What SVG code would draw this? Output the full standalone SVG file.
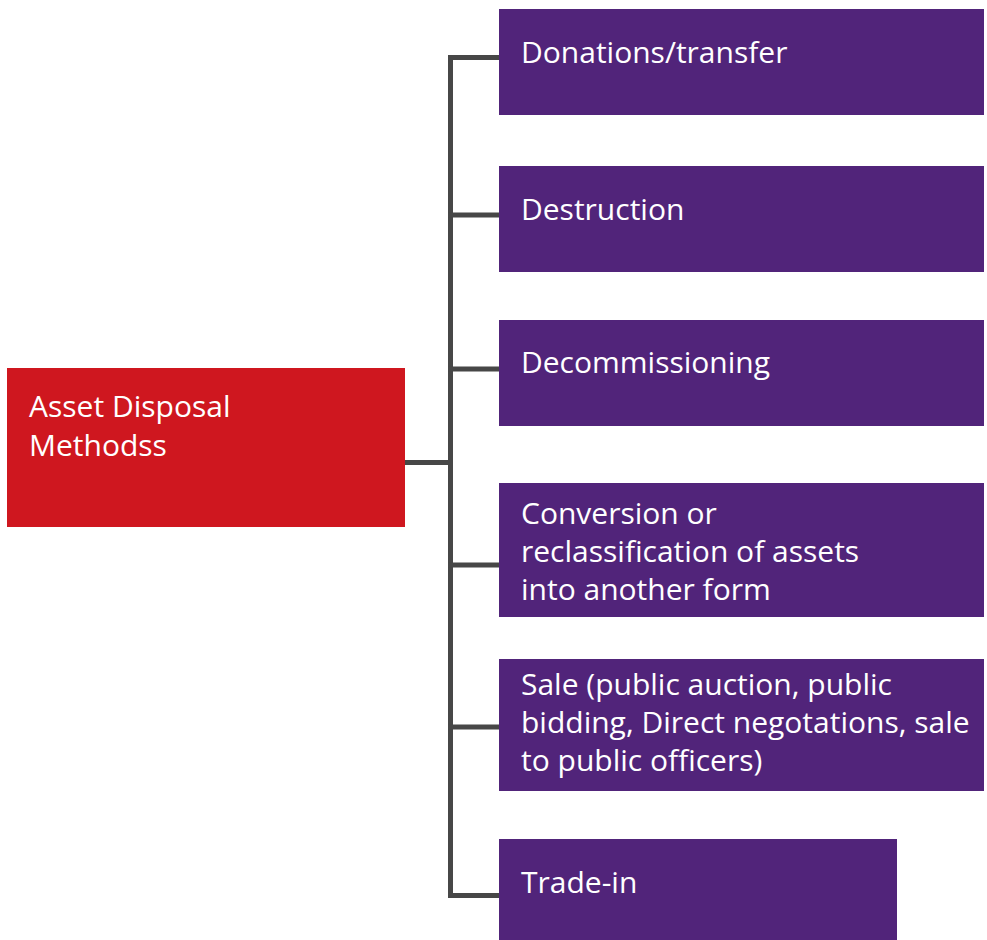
<svg xmlns="http://www.w3.org/2000/svg" width="987" height="940" viewBox="0 0 987 940">
<style>
.root{fill:#CF171F}
.leaf{fill:#51247A}
.t{font-family:"Open Sans","Noto Sans","DejaVu Sans",sans-serif;font-size:30px;fill:#FFFFFF}
.c{fill:none;stroke:#474747;stroke-width:5}
</style>
<rect width="987" height="940" fill="#FFFFFF"/>
<g id="connectors">
<path class="c" d="M405 462.5 H450.5"/>
<path class="c" d="M450.5 57.5 V895.5"/>
<path class="c" d="M448 57.5 H499"/>
<path class="c" d="M448 215 H499"/>
<path class="c" d="M448 369 H499"/>
<path class="c" d="M448 565 H499"/>
<path class="c" d="M448 727 H499"/>
<path class="c" d="M448 895.5 H499"/>
</g>
<g id="root">
<rect class="root" x="7" y="368" width="398" height="159"/>
<text class="t"><tspan x="29" y="417">Asset Disposal</tspan><tspan x="29" y="456">Methodss</tspan></text>
</g>
<g id="donations">
<rect class="leaf" x="499" y="9" width="485" height="106"/>
<text class="t" x="521" y="63">Donations/transfer</text>
</g>
<g id="destruction">
<rect class="leaf" x="499" y="166" width="485" height="106"/>
<text class="t" x="521" y="220">Destruction</text>
</g>
<g id="decommissioning">
<rect class="leaf" x="499" y="320" width="485" height="106"/>
<text class="t" x="521" y="373">Decommissioning</text>
</g>
<g id="conversion">
<rect class="leaf" x="499" y="483" width="485" height="134"/>
<text class="t"><tspan x="521" y="524">Conversion or</tspan><tspan x="521" y="562">reclassification of assets</tspan><tspan x="521" y="600">into another form</tspan></text>
</g>
<g id="sale">
<rect class="leaf" x="499" y="659" width="485" height="132"/>
<text class="t"><tspan x="521" y="695">Sale (public auction, public</tspan><tspan x="521" y="733">bidding, Direct negotations, sale</tspan><tspan x="521" y="771">to public officers)</tspan></text>
</g>
<g id="tradein">
<rect class="leaf" x="499" y="839" width="398" height="101"/>
<text class="t" x="521" y="893">Trade-in</text>
</g>
</svg>
